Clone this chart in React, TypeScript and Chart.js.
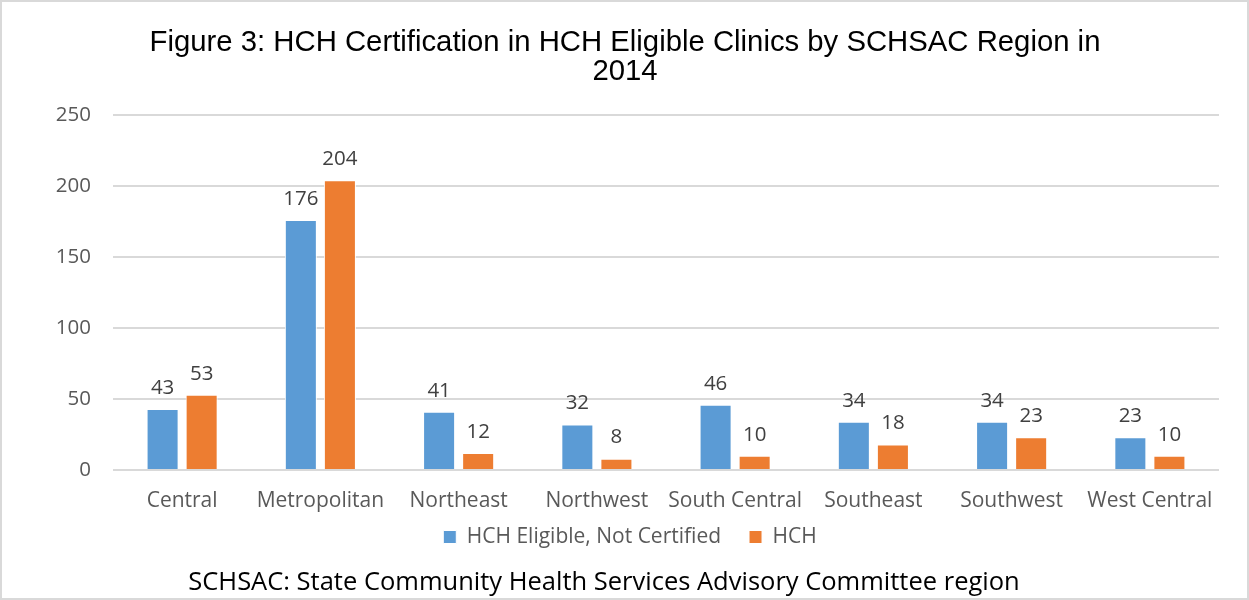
import React, { useEffect, useRef } from "react";
import { Chart, registerables } from "chart.js";

Chart.register(...registerables);

const categories = [
  "Central",
  "Metropolitan",
  "Northeast",
  "Northwest",
  "South Central",
  "Southeast",
  "Southwest",
  "West Central",
];
const eligibleNotCertified = [43, 176, 41, 32, 46, 34, 34, 23];
const hchCertified = [53, 204, 12, 8, 10, 18, 23, 10];
const seriesNames = ["HCH Eligible, Not Certified", "HCH"];
const titleLines = [
  "Figure 3: HCH Certification in HCH Eligible Clinics by SCHSAC Region in",
  "2014",
];
const footerText = "SCHSAC: State Community Health Services Advisory Committee region";

const BODY_FONT = "'Open Sans', 'Noto Sans', sans-serif";

const valueLabels = {
  id: "valueLabels",
  afterDatasetsDraw(chart: any) {
    const ctx = chart.ctx;
    ctx.save();
    ctx.font = `20.5px ${BODY_FONT}`;
    ctx.fillStyle = "#404040";
    ctx.textAlign = "center";
    ctx.textBaseline = "middle";
    chart.data.datasets.forEach((ds: any, di: number) => {
      const meta = chart.getDatasetMeta(di);
      meta.data.forEach((bar: any, i: number) => {
        ctx.fillText(String(ds.data[i]), bar.x, bar.y - 21);
      });
    });
    ctx.restore();
  },
};

// nudge the legend row to sit where the reference places it
const legendNudge = {
  id: "legendNudge",
  afterLayout(chart: any) {
    const lg = chart.legend;
    if (!lg) return;
    lg.top -= 15.5;
    lg.bottom -= 15.5;
    lg.left += 5;
    lg.right += 5;
  },
};

export default function App() {
  const canvasRef = useRef<HTMLCanvasElement | null>(null);

  useEffect(() => {
    if (!canvasRef.current) return;
    const chart = new Chart(canvasRef.current, {
      type: "bar",
      data: {
        labels: categories,
        datasets: [
          {
            label: seriesNames[0],
            data: eligibleNotCertified,
            backgroundColor: "#5b9bd5",
            borderColor: "#ffffff",
            borderWidth: 1,
            categoryPercentage: 0.565,
            barPercentage: 0.82,
          },
          {
            label: seriesNames[1],
            data: hchCertified,
            backgroundColor: "#ed7d31",
            borderColor: "#ffffff",
            borderWidth: 1,
            categoryPercentage: 0.565,
            barPercentage: 0.82,
          },
        ],
      },
      options: {
        responsive: false,
        animation: false,
        devicePixelRatio: 1,
        layout: { padding: { left: 31, right: 30, top: 0, bottom: 27 } },
        plugins: {
          title: {
            display: true,
            text: titleLines,
            color: "#000000",
            font: { family: "'Liberation Sans', Arial, sans-serif", size: 29.3, weight: "normal", lineHeight: 1.0 },
            padding: { top: 28, bottom: 28.4 },
          },
          legend: {
            position: "bottom",
            labels: {
              color: "#595959",
              font: { family: BODY_FONT, size: 21 },
              boxWidth: 13,
              boxHeight: 13,
              padding: 28,
            },
          },
          tooltip: { enabled: false },
        },
        scales: {
          x: {
            grid: { display: false, drawTicks: false },
            border: { display: false },
            ticks: {
              color: "#595959",
              font: { family: BODY_FONT, size: 21 },
              padding: 18,
              maxRotation: 0,
              autoSkip: false,
            },
            afterFit(scale: any) {
              scale.height = 44;
            },
          },
          y: {
            min: 0,
            max: 250,
            grid: { color: "#d9d9d9", lineWidth: 2, drawTicks: false },
            border: { display: false },
            ticks: {
              stepSize: 50,
              color: "#595959",
              font: { family: BODY_FONT, size: 20.5 },
              padding: 22,
            },
            afterFit(scale: any) {
              scale.width = 82;
            },
          },
        },
      },
      plugins: [valueLabels, legendNudge],
    });
    return () => chart.destroy();
  }, []);

  return (
    <div style={{ position: "absolute", left: 0, top: 0, width: 1249, height: 600, background: "#ffffff" }}>
      <canvas ref={canvasRef} width={1249} height={600} style={{ display: "block" }} />
      <div
        style={{
          position: "absolute",
          left: 0,
          top: 565,
          width: 1208,
          height: 30,
          lineHeight: "30px",
          textAlign: "center",
          fontFamily: BODY_FONT,
          fontSize: 25.5,
          color: "#000000",
          whiteSpace: "nowrap",
        }}
      >
        {footerText}
      </div>
      <div
        style={{
          position: "absolute",
          left: 0,
          top: 0,
          width: 1249,
          height: 600,
          boxSizing: "border-box",
          border: "2px solid #d9d9d9",
          pointerEvents: "none",
        }}
      />
    </div>
  );
}
